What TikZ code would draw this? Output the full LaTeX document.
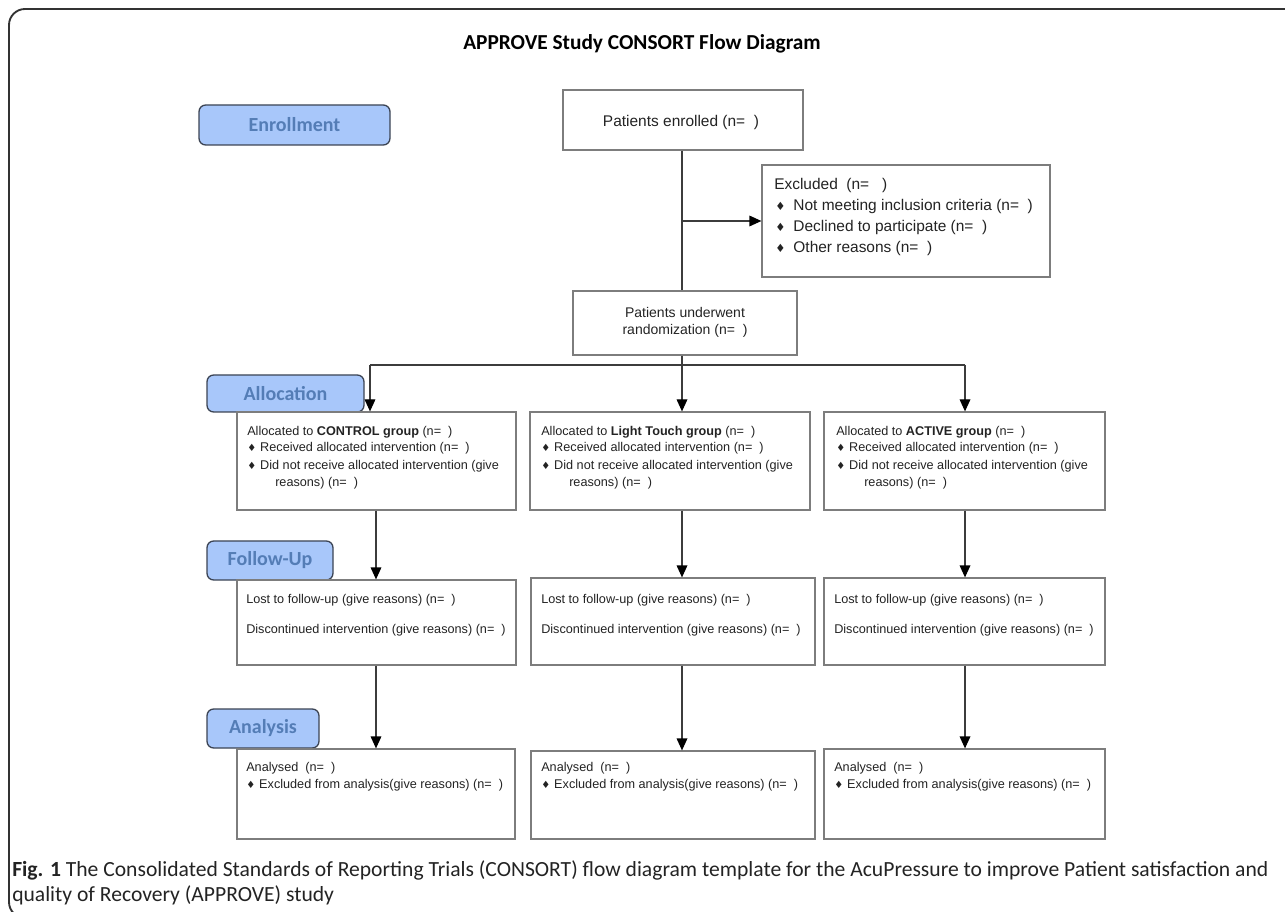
\documentclass[tikz,border=0pt]{standalone}
\usepackage{fontspec}
\setmainfont{Liberation Sans}
\newfontfamily\calib{Carlito}
\newfontfamily\dvs{DejaVu Sans}
\usetikzlibrary{arrows.meta,fit}
\definecolor{lblfill}{RGB}{168,199,250}
\definecolor{lbltext}{RGB}{84,125,182}
\definecolor{lbldraw}{RGB}{60,68,84}
\definecolor{boxc}{RGB}{125,125,125}
\definecolor{linec}{RGB}{60,60,60}
\definecolor{txtc}{RGB}{35,35,35}
\newcommand\dm{{\dvs\fontsize{7.5}{7.5}\selectfont ♦}\hspace{3pt}}
\newcommand\dmb{{\dvs\fontsize{8.5}{8.5}\selectfont ♦}\hspace{6pt}}
\begin{document}
\begin{tikzpicture}[x=0.75pt,y=-0.75pt,
  box/.style={draw=boxc, line width=0.9pt, inner sep=0pt},
  lbl/.style={draw=lbldraw, fill=lblfill, line width=1pt, rounded corners=5pt, inner sep=0pt},
  lbltxt/.style={inner sep=0pt, text=lbltext, font=\calib\bfseries\fontsize{15}{15}\selectfont},
  conn/.style={draw=linec, line width=0.9pt},
  arr/.style={conn, -{Triangle[length=9pt,width=8pt,color=black]}},
  tbig/.style={inner sep=0pt, text=txtc, font=\fontsize{11.6}{13}\selectfont, anchor=west},
  tmid/.style={inner sep=0pt, text=txtc, font=\fontsize{10.5}{12}\selectfont},
  tsm/.style={inner sep=0pt, text=txtc, font=\fontsize{9.5}{11}\selectfont, anchor=west},
]
\useasboundingbox (0,0) rectangle (1285,912);
% outer frame
\draw[line width=1.4pt, draw=black!80, rounded corners=12pt] (1400,918) -- (9,918) -- (9,9) -- (1400,9);
% title
\node[font=\calib\bfseries\fontsize{16}{18}\selectfont, inner sep=0pt] (title) at (642,44) {APPROVE Study CONSORT Flow Diagram};

% stage labels
\node[lbl, fit={(199,105) (390,145)}] (lenr) {};
\node[lbltxt] (lenrt) at (lenr.center) {Enrollment};
\node[lbl, fit={(207,375) (364,412)}] (lall) {};
\node[lbltxt] (lallt) at (lall.center) {Allocation};
\node[lbl, fit={(207,541) (333,580)}] (lfol) {};
\node[lbltxt] (lfolt) at (lfol.center) {Follow-Up};
\node[lbl, fit={(207,709) (319,748)}] (lana) {};
\node[lbltxt] (lanat) at (lana.center) {Analysis};

% boxes
\node[box, fit={(563,90) (803,150)}] (enr) {};
\node[tbig, anchor=center] (enrt) at (681,123) {Patients enrolled (n=\ \ )};

\node[box, fit={(762,165) (1050,277)}] (exc) {};
\node[tbig] (exc1) at (774,186) {Excluded\ \ (n=\ \ \ )};
\node[tbig] (exc2) at (775,207) {\dmb Not meeting inclusion criteria (n=\ \ )};
\node[tbig] (exc3) at (775,228) {\dmb Declined to participate (n=\ \ )};
\node[tbig] (exc4) at (775,249) {\dmb Other reasons (n=\ \ )};

\node[box, fit={(573,291) (797,355)}] (rnd) {};
\node[tmid] (rnd1) at (685,312) {Patients underwent};
\node[tmid] (rnd2) at (685,331) {randomization (n=\ \ )};

% allocation boxes
\node[box, fit={(237,412) (516,510)}] (a1) {};
\node[box, fit={(530,412) (810,510)}] (a2) {};
\node[box, fit={(824,412) (1105,510)}] (a3) {};
\foreach \nm/\x/\g in {1/247/CONTROL group, 2/541/Light Touch group, 3/836/ACTIVE group}{
  \node[tsm] (a\nm t1) at (\x,432) {Allocated to \textbf{\g} (n=\ \ )};
  \node[tsm] (a\nm t2) at (\x,448) {\dm Received allocated intervention (n=\ \ )};
  \node[tsm] (a\nm t3) at (\x,466) {\dm Did not receive allocated intervention (give};
  \node[tsm] (a\nm t4) at (\x+28,483) {reasons) (n=\ \ )};
}

% follow-up boxes
\node[box, fit={(237,580) (516,665)}] (f1) {};
\node[box, fit={(531,578) (815,665)}] (f2) {};
\node[box, fit={(824,578) (1105,665)}] (f3) {};
\foreach \nm/\x in {1/246, 2/541, 3/834}{
  \node[tsm] (f\nm t1) at (\x,600) {Lost to follow-up (give reasons) (n=\ \ )};
  \node[tsm] (f\nm t2) at (\x,630) {Discontinued intervention (give reasons) (n=\ \ )};
}

% analysis boxes
\node[box, fit={(237,749) (515,839)}] (n1) {};
\node[box, fit={(531,751) (815,839)}] (n2) {};
\node[box, fit={(824,749) (1105,839)}] (n3) {};
\foreach \nm/\x in {1/246, 2/541, 3/834}{
  \node[tsm] (n\nm t1) at (\x,768) {Analysed\ \ (n=\ \ )};
  \node[tsm] (n\nm t2) at (\x,785) {\dm Excluded from analysis(give reasons) (n=\ \ )};
}

% connectors
\coordinate (split) at (682,221);
\draw[conn] (enr.south -| split) -- (rnd.north -| split);
\draw[arr] (split) -- (split -| exc.west);
\coordinate (hb) at (682,365);
\coordinate (hl) at (370,365);
\coordinate (hr) at (965,365);
\draw[conn] (rnd.south -| hb) -- (hb);
\draw[conn] (hl) -- (hr);
\draw[arr] (hl) -- (hl |- a1.north);
\draw[arr] (hb) -- (hb |- a2.north);
\draw[arr] (hr) -- (hr |- a3.north);
\coordinate (c1) at (376,0);
\coordinate (c2) at (682,0);
\coordinate (c3) at (965,0);
\draw[arr] (a1.south -| c1) -- (f1.north -| c1);
\draw[arr] (a2.south -| c2) -- (f2.north -| c2);
\draw[arr] (a3.south -| c3) -- (f3.north -| c3);
\draw[arr] (f1.south -| c1) -- (n1.north -| c1);
\draw[arr] (f2.south -| c2) -- (n2.north -| c2);
\draw[arr] (f3.south -| c3) -- (n3.north -| c3);

% caption
\node[anchor=west, inner sep=0pt, font=\calib\fontsize{16.2}{18}\selectfont, text=txtc] (cap1) at (12,870) {\textbf{Fig. 1} The Consolidated Standards of Reporting Trials (CONSORT) flow diagram template for the AcuPressure to improve Patient satisfaction and};
\node[anchor=west, inner sep=0pt, font=\calib\fontsize{16.2}{18}\selectfont, text=txtc] (cap2) at (12,895) {quality of Recovery (APPROVE) study};
\end{tikzpicture}
\end{document}
